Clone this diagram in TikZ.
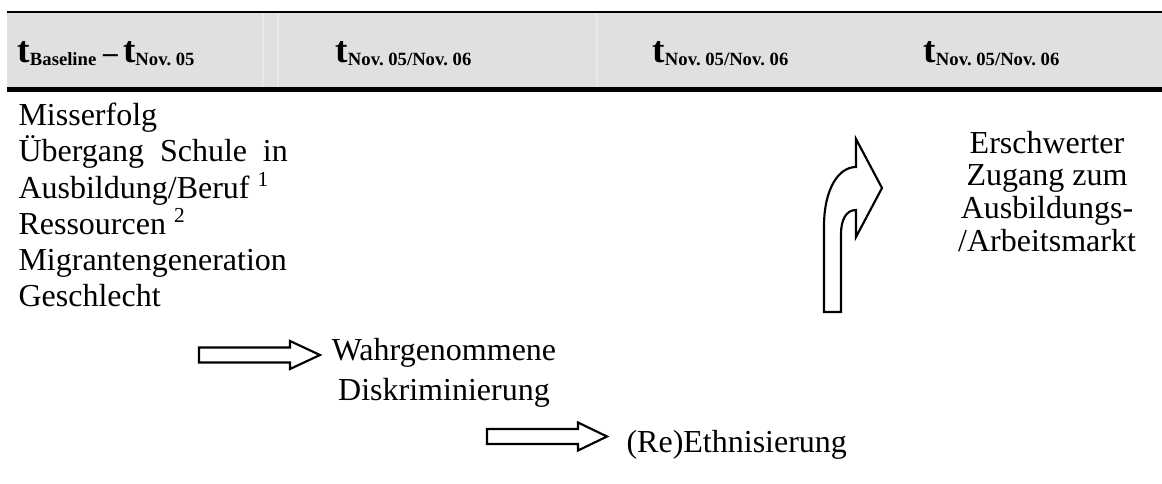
\documentclass[tikz,border=0pt]{standalone}
\usepackage{fontspec}
\setmainfont{Liberation Serif}
\usepackage{tikz}

\definecolor{bandgrey}{HTML}{E0E0E0}
\newcommand{\tlabel}[1]{t\raisebox{-1.1pt}{\fontsize{7}{8}\selectfont #1}}

\begin{document}
\begin{tikzpicture}[
  x=0.375pt, y=-0.375pt,
  head/.style={anchor=base west, inner sep=0pt, font=\fontsize{14}{16}\selectfont\bfseries},
  body/.style={anchor=base west, inner sep=0pt, align=left, font=\fontsize{12}{13.5}\selectfont},
  blockarrow/.style={draw, line width=0.8pt, fill=white, line join=miter},
  every node/.style={font=\small}
 ]
\useasboundingbox (0,0) rectangle (1162,484);

% header band
\fill[bandgrey] (7,12) rectangle (1162,89);
\draw[white!30!bandgrey, line width=0.4pt] (263,13) -- (263,88);
\draw[white!30!bandgrey, line width=0.4pt] (278,13) -- (278,88);
\draw[white!30!bandgrey, line width=0.4pt] (597,13) -- (597,88);
\draw[line width=0.95pt] (7,12) -- (1162,12);
\draw[line width=1.7pt] (7,89.5) -- (1162,89.5);

\node[head] (colA) at (17,63) {\tlabel{Baseline}\kern2.5pt{\fontsize{11}{12}\selectfont --}\kern2pt\tlabel{Nov.\ 05}};
\node[head] (colB) at (335,63) {\tlabel{Nov.\ 05/Nov.\ 06}};
\node[head] (colC) at (652,63) {\tlabel{Nov.\ 05/Nov.\ 06}};
\node[head] (colD) at (923,63) {\tlabel{Nov.\ 05/Nov.\ 06}};

% texts (base = last line)
\node[body, font=\fontsize{12}{13.6}\selectfont] (factors) at (18,307) {Misserfolg\\
  \makebox[101pt][s]{Übergang Schule in}\\
  Ausbildung/Beruf \textsuperscript{1}\\
  Ressourcen \textsuperscript{2}\\
  Migrantengeneration\\
  Geschlecht};
\node[body, anchor=base, align=center, font=\fontsize{12}{15}\selectfont] (discrim) at (444,400) {Wahrgenommene\\Diskriminierung};
\node[body] (ethnic) at (626,452) {(Re)Ethnisierung};
\node[body, anchor=base, align=center, font=\fontsize{12}{12.2}\selectfont] (barrier) at (1047,251) {Erschwerter\\Zugang zum\\Ausbildungs-\\/Arbeitsmarkt};

% block arrows
\draw[blockarrow] (199,347.5) -- (290,347.5) -- (290,341) -- (320,355) -- (290,369) -- (290,362.5) -- (199,362.5) -- cycle;
\draw[blockarrow] (487,429) -- (578,429) -- (578,422.5) -- (607,436.5) -- (578,450.5) -- (578,444) -- (487,444) -- cycle;
\draw[blockarrow] (824,312) -- (824,226) .. controls (824,190) and (838,167) .. (856,167)
  -- (856,139) -- (882,188) -- (856,237) -- (856,210)
  .. controls (846,210) and (841,220) .. (841,234) -- (841,312) -- cycle;
\end{tikzpicture}
\end{document}
